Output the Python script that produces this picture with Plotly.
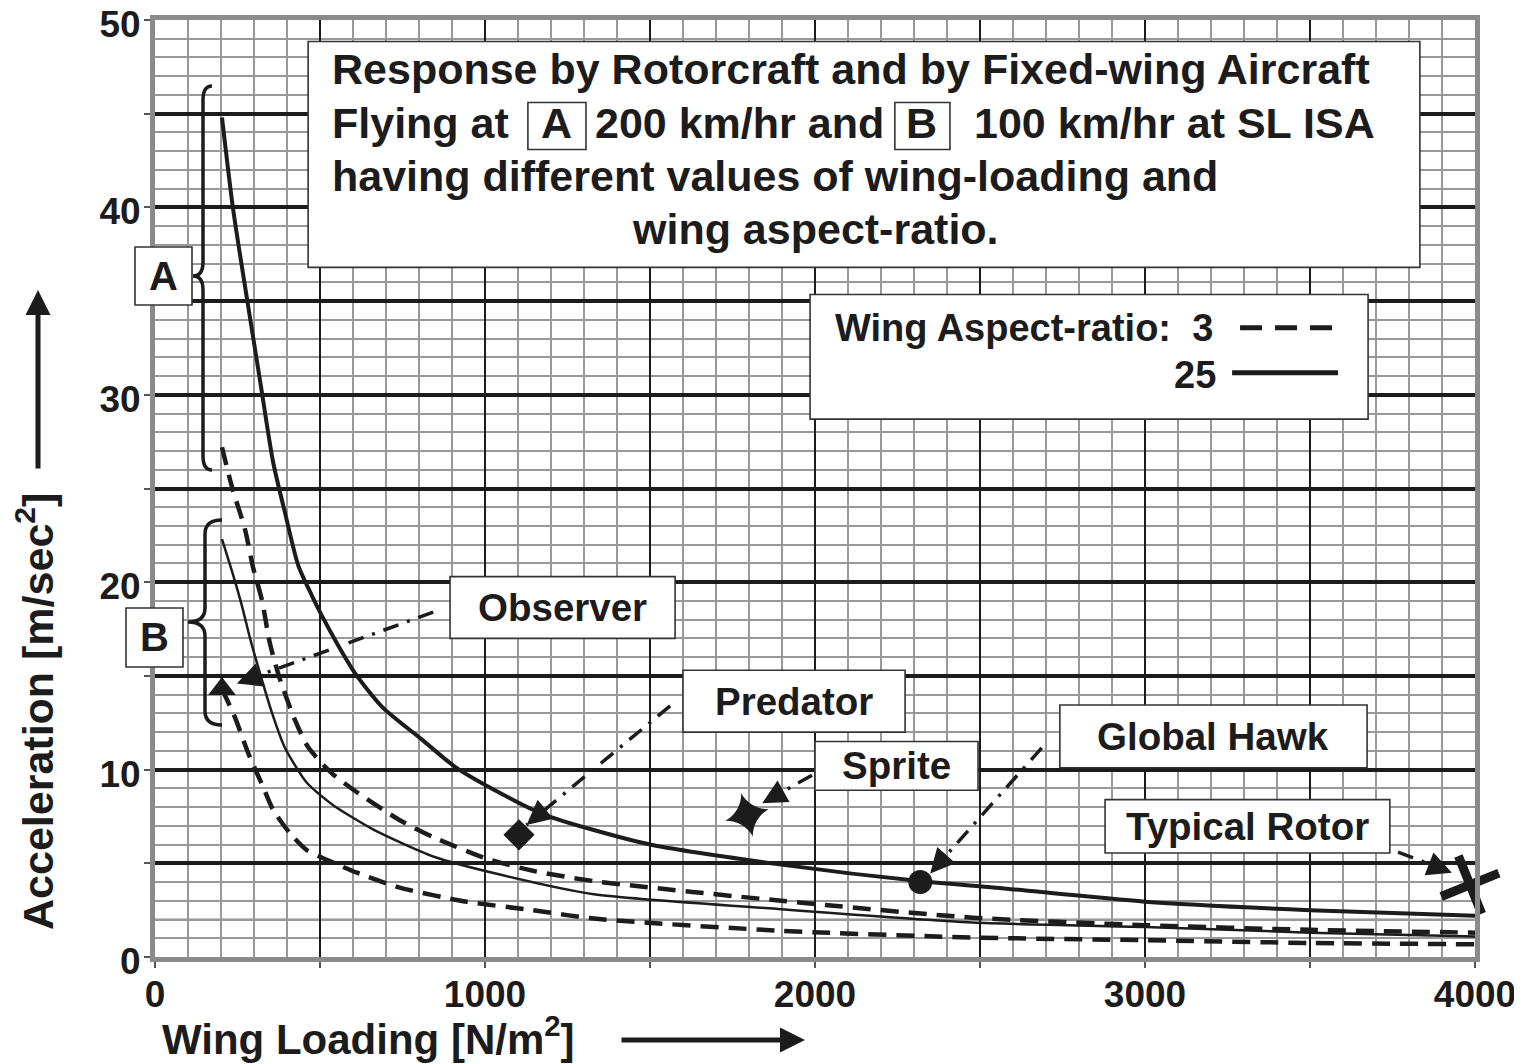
import math
import plotly.graph_objects as go

# ---------------- data ----------------
# Curve A (200 km/hr), aspect ratio 25 (thick solid)
x_a25 = [203, 236, 279, 318, 358, 394, 434, 475, 506, 556, 606, 688, 809, 909, 1030, 1179, 1500, 1898, 2316, 2548, 3000, 3500, 4000]
y_a25 = [44.8, 40.0, 35.1, 30.8, 26.4, 23.7, 20.9, 19.3, 18.2, 16.6, 15.15, 13.35, 11.6, 10.15, 8.9, 7.6, 6.0, 4.93, 4.05, 3.7, 2.95, 2.5, 2.2]
# Curve A (200 km/hr), aspect ratio 3 (dashed)
x_a3 = [203, 233, 273, 297, 324, 348, 379, 424, 464, 536, 615, 742, 843, 1005, 1145, 1330, 1898, 2478, 3000, 3500, 4000]
y_a3 = [27.2, 25.1, 22.8, 20.8, 19.05, 16.75, 14.8, 12.65, 11.2, 9.8, 8.75, 7.3, 6.4, 5.25, 4.6, 4.05, 3.0, 2.1, 1.7, 1.45, 1.3]
# Curve B (100 km/hr), aspect ratio 25 (thin solid)
x_b25 = [203, 233, 264, 288, 318, 355, 394, 460, 540, 662, 845, 1045, 1330, 1898, 2478, 3000, 3500, 4000]
y_b25 = [22.3, 20.6, 18.7, 17.0, 15.15, 13.0, 11.15, 9.3, 8.1, 6.8, 5.35, 4.4, 3.35, 2.55, 1.84, 1.6, 1.3, 1.1]
# Curve B (100 km/hr), aspect ratio 3 (dashed)
x_b3 = [203, 242, 282, 327, 358, 409, 460, 506, 612, 742, 945, 1145, 1330, 1898, 2478, 3000, 3500, 4000]
y_b3 = [14.3, 12.8, 10.9, 9.1, 7.85, 6.6, 5.7, 5.3, 4.5, 3.7, 2.95, 2.5, 2.05, 1.4, 1.04, 0.9, 0.75, 0.68]

# aircraft points
aircraft = ["Observer", "Predator", "Sprite", "Global Hawk", "Typical Rotor"]
ac_x = [203, 1103, 1794, 2319, 3985]
ac_y = [14.3, 6.52, 7.58, 4.0, 3.85]
ac_symbol = ["triangle-up", "diamond", "star-diamond", "circle", "x-thin"]
ac_size = [24, 24, 32, 24, 44]
ac_angle = [0, 0, -15, 0, 23]

# label boxes (x0, x1, y0, y1) and arrows (from -> to)
label_box = [(894, 1576, 17.0, 20.3), (1600, 2273, 12.0, 15.3), (2000, 2494, 8.9, 11.5),
             (2742, 3673, 10.1, 13.45), (2879, 3742, 5.55, 8.4)]
arrow_from = [(843, 18.4), (1561, 13.4), (1991, 9.7), (2687, 11.16), (3767, 5.6)]
arrow_to = [(248, 14.6), (1126, 7.05), (1840, 8.2), (2349, 4.46), (3930, 4.5)]

x_ticks = [0, 500, 1000, 1500, 2000, 2500, 3000, 3500, 4000]
x_ticktext = ["0", "", "1000", "", "2000", "", "3000", "", "4000"]
y_ticks = [0, 5, 10, 15, 20, 25, 30, 35, 40, 45, 50]
y_ticktext = ["0", "", "10", "", "20", "", "30", "", "40", "", "50"]

FONT = "Liberation Sans, Arial, Helvetica, sans-serif"
INK = "#1c1c1c"

# screen geometry (layout only); page body has an 8px margin
BODY = 8
SCR_W, SCR_H = 1522, 1064
L, T, R, B = 155, 20, 47, 107          # plot area in screen pixels
PW, PH = SCR_W - L - R, SCR_H - T - B
X_MAX, Y_MAX = 4000, 50


def px(xp):
    return (xp - L) / PW


def py(yp):
    return (T + PH - yp) / PH


fig = go.Figure()

dash_pat = "18px,10px"
common = dict(mode="lines", showlegend=False, hoverinfo="skip")
fig.add_trace(go.Scatter(x=x_a25, y=y_a25, line=dict(color=INK, width=4, shape="spline", smoothing=0.7), **common))
fig.add_trace(go.Scatter(x=x_a3, y=y_a3, line=dict(color=INK, width=4.5, dash=dash_pat, shape="spline", smoothing=0.7), **common))
fig.add_trace(go.Scatter(x=x_b25, y=y_b25, line=dict(color=INK, width=2.5, shape="spline", smoothing=0.6), **common))
fig.add_trace(go.Scatter(x=x_b3, y=y_b3, line=dict(color=INK, width=4.5, dash=dash_pat, shape="spline", smoothing=0.7), **common))

annos = []
shapes = []

# dash-dot arrows with arrowheads
kx, ky = PW / X_MAX, PH / Y_MAX
for (fx, fy), (tx, ty) in zip(arrow_from, arrow_to):
    fig.add_trace(go.Scatter(x=[fx, tx], y=[fy, ty], mode="lines",
                             line=dict(color=INK, width=3.5, dash="16px,9px,3px,9px"),
                             showlegend=False, hoverinfo="skip", cliponaxis=False))
    dxp, dyp = (tx - fx) * kx, -(ty - fy) * ky
    n = math.hypot(dxp, dyp)
    annos.append(dict(x=tx, y=ty, xref="x", yref="y", ax=-dxp / n * 14, ay=-dyp / n * 14,
                      text="", showarrow=True, arrowhead=2, arrowsize=1.4, arrowwidth=3.5,
                      arrowcolor=INK, standoff=0))

# aircraft markers
for i in range(len(aircraft)):
    if ac_symbol[i] == "x-thin":
        mk = dict(symbol="x-thin", size=ac_size[i], angle=ac_angle[i], color=INK, line=dict(color=INK, width=9))
    else:
        mk = dict(symbol=ac_symbol[i], size=ac_size[i], angle=ac_angle[i], color=INK, line=dict(color=INK, width=0))
    fig.add_trace(go.Scatter(x=[ac_x[i]], y=[ac_y[i]], mode="markers", marker=mk, name=aircraft[i],
                             showlegend=False, hoverinfo="skip", cliponaxis=False))


def box(x0, x1, y0, y1, xref="x", yref="y"):
    shapes.append(dict(type="rect", xref=xref, yref=yref, x0=x0, x1=x1, y0=y0, y1=y1,
                       fillcolor="white", line=dict(color="#333", width=1.6), layer="above"))


def text(x, y, s, size, xanchor="center", xref="x", yref="y", angle=0):
    annos.append(dict(x=x, y=y, xref=xref, yref=yref, text="<b>" + s + "</b>", showarrow=False,
                      xanchor=xanchor, yanchor="middle", textangle=angle,
                      font=dict(family=FONT, size=size, color=INK)))


# title box
box(464, 3833, 36.8, 48.85)
TS = 43
text(530, 47.36, "Response by Rotorcraft and by Fixed-wing Aircraft", TS, "left")
text(530, 44.53, "Flying at", TS, "left")
box(1130, 1306, 43.09, 45.6)
text(1218, 44.53, "A", TS)
text(1327, 44.53, "200 km/hr and", TS, "left")
box(2242, 2409, 43.09, 45.6)
text(2324, 44.53, "B", TS)
text(2476, 44.53, "100 km/hr at SL ISA", TS, "left")
text(530, 41.70, "having different values of wing-loading and", TS, "left")
text(1439, 38.87, "wing aspect-ratio.", TS, "left")

# legend box
box(1985, 3676, 28.7, 35.35)
text(3212, 33.55, "Wing Aspect-ratio:  3", 38, "right")
text(3221, 31.05, "25", 38, "right")
shapes.append(dict(type="line", xref="x", yref="y", x0=3288, x1=3585, y0=33.58, y1=33.58,
                   line=dict(color=INK, width=5, dash="22px,13px"), layer="above"))
shapes.append(dict(type="line", xref="x", yref="y", x0=3264, x1=3585, y0=31.18, y1=31.18,
                   line=dict(color=INK, width=5), layer="above"))

# aircraft label boxes
for name, (x0, x1, y0, y1) in zip(aircraft, label_box):
    box(x0, x1, y0, y1)
    text((x0 + x1) / 2, (y0 + y1) / 2, name, 38.5)

# darker thin minor lines (graph paper look)
for yv in [2, 7, 12, 17, 22, 27, 32, 37, 42, 47]:
    shapes.append(dict(type="line", xref="paper", yref="y", x0=0, x1=1, y0=yv, y1=yv,
                       line=dict(color="#222", width=1.3), layer="below"))
for xv in [100, 200, 900, 1600, 1700]:
    shapes.append(dict(type="line", xref="x", yref="paper", x0=xv, x1=xv, y0=0, y1=1,
                       line=dict(color="#222", width=1.3), layer="below"))


# braces A and B (paper coords)
def brace(top, bottom, tip, xv, xt, xe):
    r = 14
    path = (f"M {px(xe)},{py(top)} "
            f"Q {px(xv)},{py(top)} {px(xv)},{py(top + r)} "
            f"L {px(xv)},{py(tip - r)} "
            f"Q {px(xv)},{py(tip)} {px(xt)},{py(tip)} "
            f"Q {px(xv)},{py(tip)} {px(xv)},{py(tip + r)} "
            f"L {px(xv)},{py(bottom - r)} "
            f"Q {px(xv)},{py(bottom)} {px(xe)},{py(bottom)}")
    shapes.append(dict(type="path", xref="paper", yref="paper", path=path,
                       line=dict(color=INK, width=3.5), layer="above"))


brace(86, 470, 276, 203, 193, 212)
brace(520, 725, 622, 205, 188, 222)
box(px(135), px(192), py(305), py(247), "paper", "paper")
text(px(163.5), py(276), "A", 40, "center", "paper", "paper")
box(px(126), px(183), py(667), py(608), "paper", "paper")
text(px(154.5), py(637), "B", 40, "center", "paper", "paper")

# axis titles and arrows
text(px(160), py(1036), "Wing Loading [N/m<sup>2</sup>]", 42, "left", "paper", "paper")
annos.append(dict(x=px(805), y=py(1040), xref="paper", yref="paper", ax=-185, ay=0, text="",
                  showarrow=True, arrowhead=2, arrowsize=1, arrowwidth=5, arrowcolor=INK))
text(px(35), py(712), "Acceleration [m/sec<sup>2</sup>]", 43, "center", "paper", "paper", angle=-90)
annos.append(dict(x=px(38), y=py(290), xref="paper", yref="paper", ax=0, ay=180, text="",
                  showarrow=True, arrowhead=2, arrowsize=1, arrowwidth=5, arrowcolor=INK))

fig.update_layout(
    width=SCR_W - BODY, height=SCR_H - BODY,
    margin=dict(l=L - BODY, r=R, t=T - BODY, b=B, autoexpand=False),
    paper_bgcolor="white", plot_bgcolor="white",
    shapes=shapes, annotations=annos,
    showlegend=False,
)
axis_common = dict(showline=True, linecolor="#8a8a8a", linewidth=5, mirror=True, zeroline=False,
                   automargin=False,
                   ticks="outside", ticklen=6, tickcolor="#555", tickwidth=1.5, ticklabeloverflow="allow",
                   tickfont=dict(family=FONT, size=37, color=INK, weight="bold"), showgrid=True, gridcolor=INK)
fig.update_xaxes(range=[0, X_MAX], tickmode="array", tickvals=x_ticks, ticktext=x_ticktext, gridwidth=2,
                 ticklabelstandoff=-5,
                 minor=dict(tickmode="linear", tick0=0, dtick=100, showgrid=True, gridcolor="#999", gridwidth=1.5),
                 **axis_common)
fig.update_yaxes(range=[0, Y_MAX], tickmode="array", tickvals=y_ticks, ticktext=y_ticktext, gridwidth=4,
                 ticklabelstandoff=-4, ticklabelshift=4,
                 minor=dict(tickmode="linear", tick0=0, dtick=1, showgrid=True, gridcolor="#999", gridwidth=1.5),
                 **axis_common)

fig.write_html("out.html")
